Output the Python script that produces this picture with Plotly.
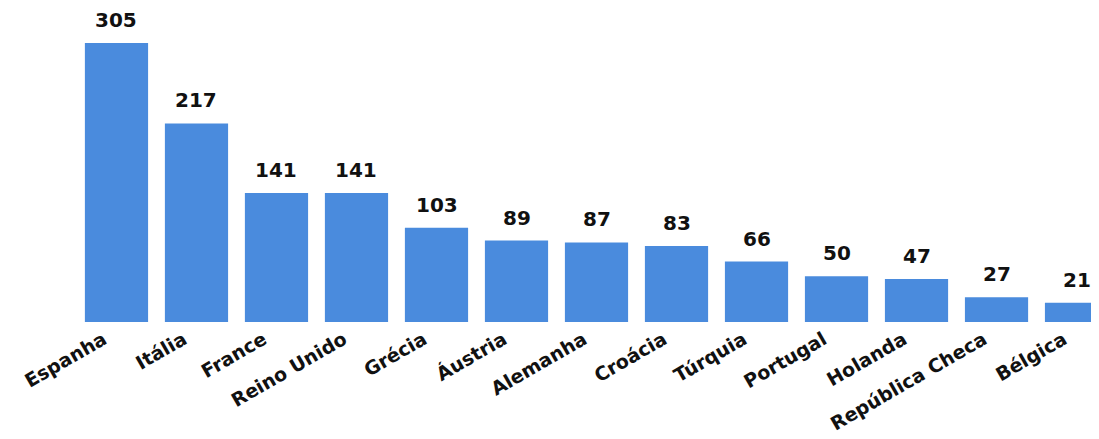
import plotly.graph_objects as go

countries = ["Espanha", "Itália", "France", "Reino Unido", "Grécia", "Áustria",
             "Alemanha", "Croácia", "Túrquia", "Portugal", "Holanda",
             "República Checa", "Bélgica"]
values = [305, 217, 141, 141, 103, 89, 87, 83, 66, 50, 47, 27, 21]

xs = list(range(len(countries)))

fig = go.Figure(go.Bar(
    x=xs,
    y=values,
    marker=dict(color="#4A8BDD", line=dict(width=0)),
    width=0.79,
))

for i, v in zip(xs, values):
    fig.add_annotation(
        x=i, y=v, text=str(v), showarrow=False,
        yanchor="bottom", yshift=9,
        font=dict(family="DejaVu Sans", size=20, color="#111111", weight="bold"),
    )

fig.update_layout(
    width=1091, height=431,
    margin=dict(l=0, r=0, t=0, b=117, autoexpand=False),
    paper_bgcolor="white", plot_bgcolor="white",
    showlegend=False,
    xaxis=dict(
        tickmode="array",
        tickvals=xs,
        ticktext=countries,
        tickangle=-30,
        range=[-1.356, 12.281],
        showgrid=False, zeroline=False, showline=False,
        tickfont=dict(family="DejaVu Sans", size=19, color="#111111", weight="bold"),
        ticks="", ticklen=0,
        ticklabelstandoff=2,
        ticklabelshift=-13,
    ),
    yaxis=dict(range=[0, 343.2], visible=False),
)

fig.write_html("out.html")
